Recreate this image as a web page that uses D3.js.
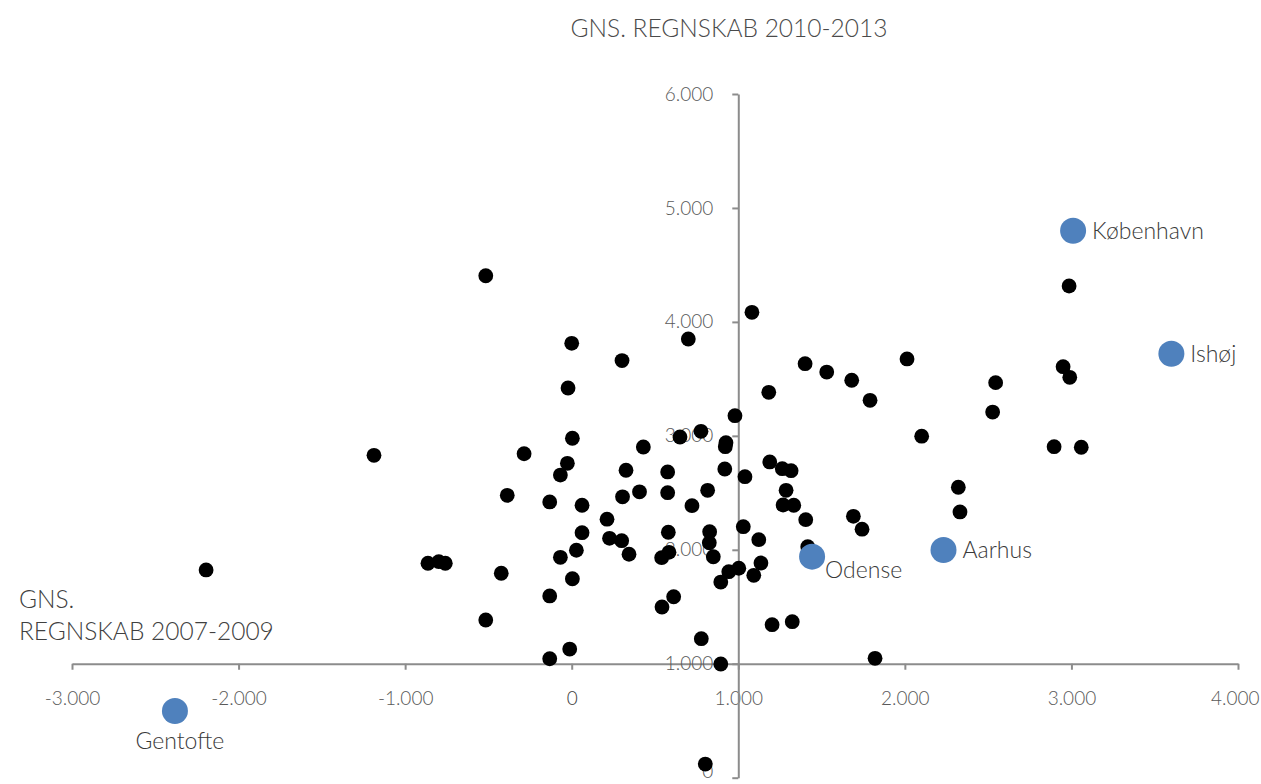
<!DOCTYPE html>
<html>
<head>
<meta charset="utf-8">
<script src="https://cdn.jsdelivr.net/npm/d3@7"></script>
<style>
html,body{margin:0;padding:0;background:#fff;}
svg{display:block;}
text{font-family:Lato,"Open Sans",sans-serif;font-weight:300;}
</style>
</head>
<body>
<svg id="chart" width="1261" height="784"></svg>
<script>
// ---- data ----
const title = "GNS. REGNSKAB 2010-2013";
const xTitleLines = ["GNS.", "REGNSKAB 2007-2009"];
const xTicks = [-3000, -2000, -1000, 0, 1000, 2000, 3000, 4000];
const yTicks = [0, 1000, 2000, 3000, 4000, 5000, 6000];

// municipalities (black dots): x = avg 2007-2009, y = avg 2010-2013
const otherX = [-516, 0, 302, -22, 4, -1187, -286, 430, -26, -68, 326, -387, -132, 62, 407, 305, 212, 62, 227, 300, 344, 28, -68, -863, -798, -759, -423, 4, -132, -516, -12, -132,
  1082, 700, 1401, 1531, 1681, 2013, 1183, 1791, 980, 650, 776, 926, 922, 2101, 1189, 1264, 1317, 576, 919, 1040, 576, 816, 1287, 1269, 1333, 722, 1405, 1691, 1743, 1030, 580, 828, 1123, 826, 1417, 584, 540, 850, 1003, 943, 1136, 895, 1093, 612, 542, 1203, 1324, 778, 1821, 895, 802,
  2986, 2950, 2990, 2545, 2527, 2896, 3059, 2321, 2331, -2195];
const otherY = [4405, 3812, 3661, 3420, 2979, 2829, 2843, 2902, 2759, 2656, 2698, 2478, 2420, 2391, 2509, 2465, 2269, 2150, 2101, 2080, 1961, 1996, 1934, 1882, 1896, 1882, 1794, 1746, 1595, 1384, 1129, 1044,
  4084, 3850, 3633, 3560, 3488, 3675, 3382, 3312, 3177, 2990, 3040, 2940, 2905, 2997, 2771, 2712, 2694, 2683, 2709, 2642, 2501, 2522, 2522, 2393, 2391, 2387, 2264, 2294, 2181, 2203, 2154, 2159, 2089, 2062, 2027, 1978, 1931, 1939, 1838, 1808, 1884, 1717, 1776, 1588, 1498, 1343, 1369, 1220, 1048, 998, 120,
  4315, 3607, 3514, 3467, 3209, 2905, 2900, 2549, 2332, 1823];

// highlighted municipalities
const hiNames = ["København", "Ishøj", "Aarhus", "Odense", "Gentofte"];
const hiX = [3010, 3600, 2232, 1443, -2382];
const hiY = [4800, 3721, 1998, 1940, 585];
const hiLabelPos = ["right", "right", "right", "belowRight", "below"];

// ---- chart ----
const svg = d3.select("#chart");
const x = d3.scaleLinear().domain([-3000, 4000]).range([72, 1238]);
const y = d3.scaleLinear().domain([0, 6000]).range([777.7, 94]);
const loc = d3.formatLocale({decimal: ",", thousands: ".", grouping: [3], currency: ["", ""], minus: "-"});
const fmt = loc.format(",d");

const axisColor = "#8c8c8c";
const tickText = "#595959";

// title
svg.append("text").attr("x", 729).attr("y", 37).attr("text-anchor", "middle")
  .attr("font-size", 24.5).attr("fill", "#4a4a4a").text(title);

// x axis title
svg.append("text").attr("font-size", 24.5).attr("fill", "#404040")
  .selectAll("tspan").data(xTitleLines).join("tspan")
  .attr("x", 19).attr("y", (d, i) => 608 + i * 32).text(d => d);

// x axis at y=1000
const xAxisG = svg.append("g").attr("transform", `translate(0,${y(1000)})`)
  .call(d3.axisBottom(x).tickValues(xTicks).tickFormat(fmt).tickSize(6).tickPadding(22).tickSizeOuter(0));
// y axis at x=1000
const yAxisG = svg.append("g").attr("transform", `translate(${x(1000)},0)`)
  .call(d3.axisLeft(y).tickValues(yTicks).tickFormat(fmt).tickSize(6).tickPadding(19).tickSizeOuter(0));

[xAxisG, yAxisG].forEach(g => {
  g.select(".domain").attr("stroke", axisColor).attr("stroke-width", 2);
  g.selectAll(".tick line").attr("stroke", axisColor).attr("stroke-width", 2);
  g.selectAll(".tick text").attr("fill", tickText).attr("font-size", 19)
    .attr("font-family", "Lato, sans-serif").attr("font-weight", 400);
});
xAxisG.selectAll(".tick text").filter(d => d === 0).attr("font-weight", 700).attr("fill", "#404040");
// keep edge labels inside the canvas
xAxisG.selectAll(".tick text").filter(d => d === 4000).attr("text-anchor", "end").attr("x", 21);
yAxisG.selectAll(".tick text").filter(d => d === 0).attr("dy", "0em");

// black dots
const pts = otherX.map((v, i) => ({x: v, y: otherY[i]}));
svg.append("g").selectAll("circle").data(pts).join("circle")
  .attr("cx", d => x(d.x)).attr("cy", d => y(d.y)).attr("r", 7.4).attr("fill", "#000");

// highlighted dots
const hi = hiNames.map((n, i) => ({name: n, x: hiX[i], y: hiY[i], pos: hiLabelPos[i]}));
svg.append("g").selectAll("circle").data(hi).join("circle")
  .attr("cx", d => x(d.x)).attr("cy", d => y(d.y)).attr("r", 13).attr("fill", "#4f81bd");

const offs = {right: [19, 0, "start"], belowRight: [13, 13, "start"], below: [5, 30, "middle"]};
svg.append("g").selectAll("text").data(hi).join("text")
  .attr("x", d => x(d.x) + offs[d.pos][0])
  .attr("y", d => y(d.y) + offs[d.pos][1])
  .attr("dy", "0.35em")
  .attr("text-anchor", d => offs[d.pos][2])
  .attr("font-size", 23).attr("fill", "#3a3a3a")
  .text(d => d.name);
</script>
</body>
</html>
